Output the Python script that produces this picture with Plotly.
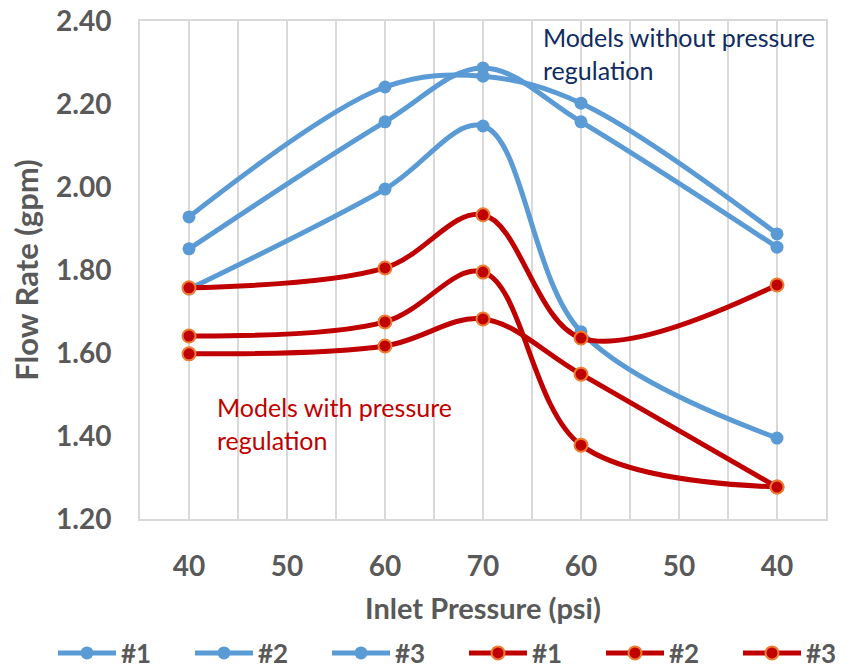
import plotly.graph_objects as go

# ---- data ----
tick_labels = ["40", "50", "60", "70", "60", "50", "40"]
tick_pos = [1, 2, 3, 4, 5, 6, 7]
x_pos = [1, 3, 4, 5, 7]  # 40, 60, 70, 60, 40 psi (up then down)

names = ["#1", "#2", "#3", "#1", "#2", "#3"]
blue_1 = [1.928, 2.241, 2.267, 2.202, 1.887]
blue_2 = [1.851, 2.157, 2.287, 2.157, 1.855]
blue_3 = [1.754, 1.995, 2.147, 1.651, 1.395]
red_1 = [1.757, 1.805, 1.933, 1.636, 1.764]
red_2 = [1.641, 1.675, 1.795, 1.378, 1.277]
red_3 = [1.598, 1.617, 1.682, 1.549, 1.277]

BLUE = "#5B9BD5"
RED = "#C00000"
ORANGE = "#ED7D31"
GREY = "#595959"
GRID = "#D9D9D9"
FONT = "Lato"

fig = go.Figure()
for nm, ys in zip(names[:3], [blue_1, blue_2, blue_3]):
    fig.add_trace(go.Scatter(
        x=x_pos, y=ys, name=nm, mode="lines+markers",
        line=dict(color=BLUE, width=5, shape="spline", smoothing=1),
        marker=dict(color=BLUE, size=13, line=dict(width=0)),
    ))
for nm, ys in zip(names[3:], [red_1, red_2, red_3]):
    fig.add_trace(go.Scatter(
        x=x_pos, y=ys, name=nm, mode="lines+markers",
        line=dict(color=RED, width=5, shape="spline", smoothing=1),
        marker=dict(color=RED, size=13, line=dict(width=2, color=ORANGE)),
    ))

fig.update_layout(
    width=848, height=668,
    margin=dict(l=140, r=22, t=21, b=149, autoexpand=False),
    paper_bgcolor="white", plot_bgcolor="white",
    font=dict(family=FONT, color=GREY),
    showlegend=True,
    legend=dict(
        orientation="h", xref="paper", yref="paper",
        x=(53 - 140) / 686, y=(519 - 653) / 498, xanchor="left", yanchor="middle",
        entrywidth=64, entrywidthmode="pixels",
        font=dict(family=FONT, size=26, color=GREY, weight="bold"),
        itemwidth=58, traceorder="normal", tracegroupgap=0,
    ),
    annotations=[
        dict(text="Models without pressure<br>regulation", x=4.59, y=1.002,
             xref="x", yref="paper", xanchor="left", yanchor="top", align="left",
             showarrow=False, font=dict(family=FONT, size=25, color="#0F2B61")),
        dict(text="Models with pressure<br>regulation", x=1.265, y=1.51,
             xref="x", yref="y", xanchor="left", yanchor="top", align="left",
             showarrow=False, font=dict(family=FONT, size=25, color=RED)),
    ],
)

fig.update_xaxes(
    range=[0.5, 7.5], tickmode="array", tickvals=tick_pos, ticktext=tick_labels,
    showgrid=True, gridcolor=GRID, gridwidth=1.5,
    minor=dict(tickvals=[1.5, 2.5, 3.5, 4.5, 5.5, 6.5], showgrid=True,
               gridcolor=GRID, gridwidth=1.5),
    showline=True, linecolor=GRID, linewidth=2, mirror=True,
    ticks="", ticklabelstandoff=21,
    tickfont=dict(family=FONT, size=28, color=GREY, weight="bold"),
    title=dict(text="Inlet Pressure (psi)", standoff=18,
               font=dict(family=FONT, size=29, color=GREY, weight="bold")),
    zeroline=False,
)
fig.update_yaxes(
    range=[1.2, 2.4], dtick=0.2, tick0=1.2, tickformat=".2f",
    showgrid=False, zeroline=False,
    showline=True, linecolor=GRID, linewidth=2, mirror=True,
    ticks="", ticklabelstandoff=21,
    tickfont=dict(family=FONT, size=28, color=GREY, weight="bold"),
    title=dict(text="Flow Rate (gpm)", standoff=8,
               font=dict(family=FONT, size=31, color=GREY, weight="bold")),
)

fig.write_html("out.html")
